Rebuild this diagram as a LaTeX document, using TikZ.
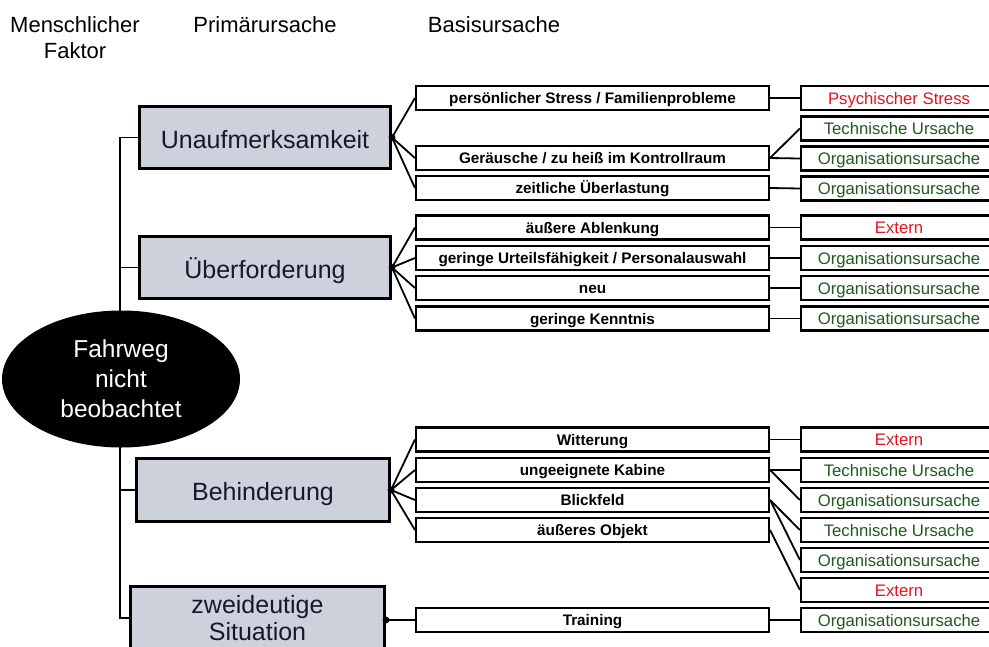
\documentclass[tikz,border=0pt]{standalone}
\usepackage{fontspec}
\setmainfont{Liberation Sans}
\usetikzlibrary{shapes.geometric}
\definecolor{primfill}{HTML}{CDD1DC}
\definecolor{primtext}{HTML}{17172E}
\definecolor{redtxt}{HTML}{E3141E}
\definecolor{greentxt}{HTML}{1E5A1E}
\begin{document}
\begin{tikzpicture}[x=1pt,y=-1pt,
  header/.style={font=\fontsize{22}{26}\selectfont, align=center, inner sep=0pt},
  primbox/.style={draw, line width=3pt, fill=primfill, text=primtext,
    font=\fontsize{25}{29}\selectfont, align=center, inner sep=0pt,
    minimum width=251pt, minimum height=62pt},
  primone/.style={primbox, text height=22pt, text depth=1pt},
  secbox/.style={draw, line width=2.1pt, fill=white,
    font=\bfseries\fontsize{15.3}{18}\selectfont, minimum width=353pt,
    minimum height=24pt, inner sep=0pt, text height=12pt, text depth=1pt},
  resbox/.style={draw, line width=2.1pt, fill=white,
    font=\fontsize{16.7}{19}\selectfont, minimum width=196pt,
    minimum height=24pt, inner sep=0pt, text height=13pt, text depth=1pt},
  redres/.style={resbox, text=redtxt},
  greenres/.style={resbox, text=greentxt},
  conn/.style={line width=1.8pt},
  trunk/.style={line width=1.5pt},
  dotc/.style={circle, fill=black, inner sep=0pt, minimum size=7pt},
  elli/.style={ellipse, fill=black, text=white, align=center, inner sep=0pt,
    minimum width=238pt, minimum height=137pt, font=\fontsize{24.5}{30}\selectfont}
]
\clip (0,0) rectangle (989,646);
\fill[white] (0,0) rectangle (989,646);

% headers
\node[header, anchor=north] (h1) at (75,16) {Menschlicher\\Faktor};
\node[header, anchor=base] (h2) at (265,32) {Primärursache};
\node[header, anchor=base] (h3) at (494,32) {Basisursache};

% primary causes
\node[primone] (u) at (265,137.5) {Unaufmerksamkeit};
\node[primone] (ue) at (265,267.5) {Überforderung};
\node[primone, minimum width=253pt, minimum height=63pt] (be) at (263,490) {Behinderung};
\node[primbox, minimum width=254pt, minimum height=63pt,
  font=\fontsize{25}{27}\selectfont] (zw) at (257.5,618) {zweideutige\\Situation};

% trunk
\coordinate (trunkx) at (120,0);
\draw[trunk] (u.west) -- (u.west -| trunkx) -- (zw.west -| trunkx) -- (zw.west);
\draw[trunk] (ue.west) -- (ue.west -| trunkx);
\draw[trunk] (be.west) -- (be.west -| trunkx);

% top event
\node[elli] (top) at (121,379) {Fahrweg\\nicht\\beobachtet};

% basic causes
\node[secbox] (s1) at (592.5,98) {persönlicher Stress / Familienprobleme};
\node[secbox] (s2) at (592.5,158) {Geräusche / zu heiß im Kontrollraum};
\node[secbox] (s3) at (592.5,188) {zeitliche Überlastung};
\node[secbox] (s4) at (592.5,227.5) {äußere Ablenkung};
\node[secbox] (s5) at (592.5,258) {geringe Urteilsfähigkeit / Personalauswahl};
\node[secbox] (s6) at (592.5,288) {neu};
\node[secbox] (s7) at (592.5,318.5) {geringe Kenntnis};
\node[secbox] (s8) at (592.5,439.5) {Witterung};
\node[secbox] (s9) at (592.5,470) {ungeeignete Kabine};
\node[secbox] (s10) at (592.5,500) {Blickfeld};
\node[secbox] (s11) at (592.5,530) {äußeres Objekt};
\node[secbox] (s12) at (592.5,620) {Training};

% result categories
\node[redres] (r1) at (899,98) {Psychischer Stress};
\node[greenres] (r2) at (899,128.5) {Technische Ursache};
\node[greenres] (r3) at (899,158.5) {Organisationsursache};
\node[greenres] (r4) at (899,188.5) {Organisationsursache};
\node[redres] (r5) at (899,227.5) {Extern};
\node[greenres] (r6) at (899,258) {Organisationsursache};
\node[greenres] (r7) at (899,288) {Organisationsursache};
\node[greenres] (r8) at (899,318.5) {Organisationsursache};
\node[redres] (r9) at (899,439.5) {Extern};
\node[greenres] (r10) at (899,470) {Technische Ursache};
\node[greenres] (r11) at (899,500) {Organisationsursache};
\node[greenres] (r12) at (899,530) {Technische Ursache};
\node[greenres] (r13) at (899,560) {Organisationsursache};
\node[redres] (r14) at (899,590) {Extern};
\node[greenres] (r15) at (899,620) {Organisationsursache};

% dots
\node[dotc] (ud) at (u.east) {};
\node[dotc] (ued) at (ue.east) {};
\node[dotc] (bed) at (be.east) {};
\node[dotc] (zwd) at (zw.east |- s12.west) {};

% primary -> basic
\foreach \s in {s1,s2,s3} \draw[conn] (ud.center) -- (\s.west);
\foreach \s in {s4,s5,s6,s7} \draw[conn] (ued.center) -- (\s.west);
\foreach \s in {s8,s9,s10,s11} \draw[conn] (bed.center) -- (\s.west);
\draw[conn] (zwd.center) -- (s12.west);

% basic -> category
\draw[conn] (s1.east) -- (r1.west);
\draw[conn] (s2.east) -- (r2.west);
\draw[conn] (s2.east) -- (r3.west);
\draw[conn] (s3.east) -- (r4.west);
\draw[conn] (s4.east) -- (r5.west);
\draw[conn] (s5.east) -- (r6.west);
\draw[conn] (s6.east) -- (r7.west);
\draw[conn] (s7.east) -- (r8.west);
\draw[conn] (s8.east) -- (r9.west);
\draw[conn] (s9.east) -- (r10.west);
\draw[conn] (s9.east) -- (r11.west);
\draw[conn] (s10.east) -- (r12.west);
\draw[conn] (s10.east) -- (r13.west);
\draw[conn] (s11.east) -- (r14.west);
\draw[conn] (s12.east) -- (r15.west);
\end{tikzpicture}
\end{document}
